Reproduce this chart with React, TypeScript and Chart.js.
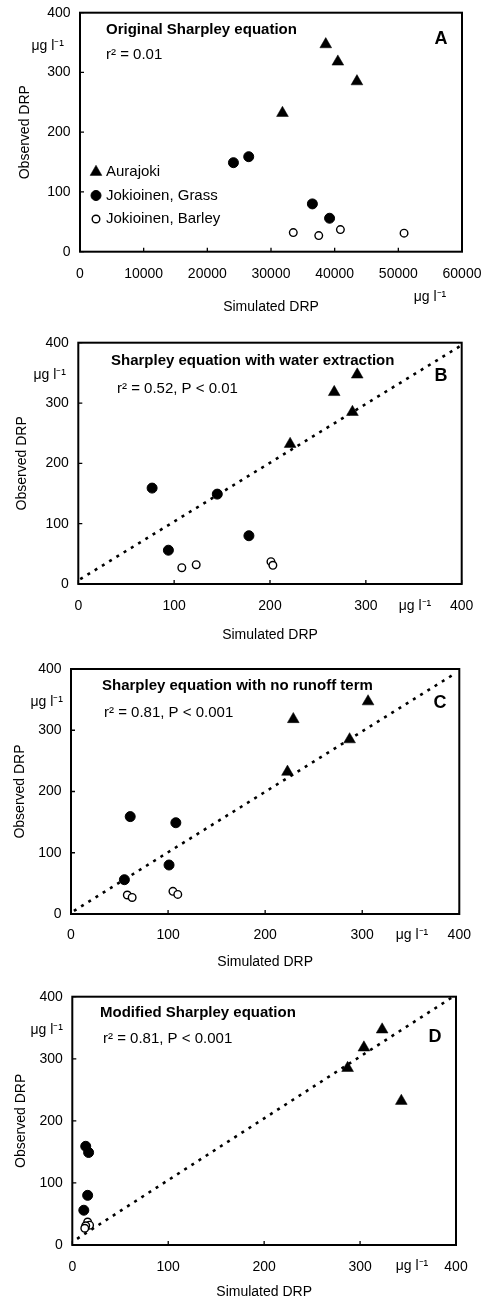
import React, { useEffect, useRef } from "react";
import { Chart, registerables } from "chart.js";

Chart.register(...registerables);

const FONT = 'Arial, "Liberation Sans", Helvetica, sans-serif';

// ---------- data ----------
const seriesNames = ["Aurajoki", "Jokioinen, Grass", "Jokioinen, Barley"];

// observed DRP (µg l-1), same observations in every panel
const obsAurajoki = [347, 318, 285, 232];
const obsGrass = [159, 149, 80, 56];
const obsBarley = [37, 32, 31, 27];

// simulated DRP, panel A (original Sharpley equation)
const simA_aurajoki = [38600, 40500, 43500, 31800];
const simA_grass = [26500, 24100, 36500, 39200];
const simA_barley = [40900, 33500, 50900, 37500];

// panel B (water extraction)
const simB_aurajoki = [291, 267, 286, 221];
const simB_grass = [77, 145, 178, 94];
const simB_barley = [201, 123, 203, 108];

// panel C (no runoff term)
const simC_aurajoki = [306, 229, 287, 223];
const simC_grass = [61, 108, 101, 55];
const simC_barley = [105, 110, 58, 63];

// panel D (modified equation)
const simD_aurajoki = [323, 304, 287, 343];
const simD_grass = [14, 17, 16, 12];
const simD_barley = [16, 18, 14, 13];

// dotted fit lines (x, y end points)
const lineB_x = [2, 398];
const lineB_y = [8, 394];
const lineC_x = [3, 395];
const lineC_y = [5, 392];
const lineD_x = [5, 395];
const lineD_y = [10, 398];

const titles = [
  "Original Sharpley equation",
  "Sharpley equation with water extraction",
  "Sharpley equation with no runoff term",
  "Modified Sharpley equation",
];
const stats = ["r² = 0.01", "r² = 0.52, P < 0.01", "r² = 0.81, P < 0.001", "r² = 0.81, P < 0.001"];
const letters = ["A", "B", "C", "D"];
const xMaxes = [60000, 400, 400, 400];
const xSteps = [10000, 100, 100, 100];
const yMax = 400;
const yStep = 100;
const unitText = "μg l⁻¹";
const xTitle = "Simulated DRP";
const yTitle = "Observed DRP";

// ---------- layout ----------
type Layout = {
  top: number;
  h: number;
  area: { left: number; right: number; top: number; bottom: number };
  xTickPad: number;
  xTitleY: number;
  yTitleX: number;
  titlePos: [number, number];
  statPos: [number, number];
  letterPos: [number, number];
  yUnitPos: [number, number];
  xUnitPos: [number, number];
  legend: boolean;
};

const layouts: Layout[] = [
  {
    top: 0, h: 318,
    area: { left: 80, right: 462, top: 12.7, bottom: 251.7 },
    xTickPad: 14.5, xTitleY: 307, yTitleX: 25,
    titlePos: [106, 30], statPos: [106, 55], letterPos: [441, 39],
    yUnitPos: [64, 46], xUnitPos: [430, 297], legend: true,
  },
  {
    top: 318, h: 327,
    area: { left: 78.3, right: 461.7, top: 342.7, bottom: 584 },
    xTickPad: 13.5, xTitleY: 635, yTitleX: 22,
    titlePos: [111, 361], statPos: [117, 389], letterPos: [441, 376],
    yUnitPos: [66, 375], xUnitPos: [415, 606], legend: false,
  },
  {
    top: 645, h: 327,
    area: { left: 71, right: 459.3, top: 669, bottom: 914 },
    xTickPad: 12.6, xTitleY: 962, yTitleX: 20,
    titlePos: [102, 686], statPos: [104, 713], letterPos: [440, 703],
    yUnitPos: [63, 702], xUnitPos: [412, 935], legend: false,
  },
  {
    top: 972, h: 326,
    area: { left: 72.3, right: 456, top: 996.7, bottom: 1245 },
    xTickPad: 13.5, xTitleY: 1292, yTitleX: 21,
    titlePos: [100, 1013], statPos: [103, 1039], letterPos: [435, 1037],
    yUnitPos: [63, 1030], xUnitPos: [412, 1266], legend: false,
  },
];

const sims = [
  [simA_aurajoki, simA_grass, simA_barley],
  [simB_aurajoki, simB_grass, simB_barley],
  [simC_aurajoki, simC_grass, simC_barley],
  [simD_aurajoki, simD_grass, simD_barley],
];
const lines: (null | [number[], number[]])[] = [null, [lineB_x, lineB_y], [lineC_x, lineC_y], [lineD_x, lineD_y]];
const observed = [obsAurajoki, obsGrass, obsBarley];

const markerStyles = [
  { pointStyle: "triangle", radius: 6.8, bg: "#000", border: "#000", bw: 0.5 },
  { pointStyle: "circle", radius: 5, bg: "#000", border: "#000", bw: 1 },
  { pointStyle: "circle", radius: 3.8, bg: "#fff", border: "#000", bw: 1.4 },
];

function drawMarker(ctx: CanvasRenderingContext2D, idx: number, x: number, y: number) {
  const m = markerStyles[idx];
  ctx.save();
  ctx.fillStyle = m.bg;
  ctx.strokeStyle = m.border;
  ctx.lineWidth = m.bw;
  ctx.beginPath();
  if (m.pointStyle === "triangle") {
    const r = m.radius;
    ctx.moveTo(x, y - r);
    ctx.lineTo(x + r * Math.sin(Math.PI / 3), y + r * 0.5);
    ctx.lineTo(x - r * Math.sin(Math.PI / 3), y + r * 0.5);
    ctx.closePath();
  } else {
    ctx.arc(x, y, m.radius, 0, Math.PI * 2);
  }
  ctx.fill();
  ctx.stroke();
  ctx.restore();
}

function Panel({ i }: { i: number }) {
  const ref = useRef<HTMLCanvasElement>(null);
  useEffect(() => {
    const L = layouts[i];
    const off = L.top;
    const datasets: any[] = observed.map((obs, s) => ({
      label: seriesNames[s],
      data: sims[i][s].map((x, k) => ({ x, y: obs[k] })),
      pointStyle: markerStyles[s].pointStyle,
      pointRadius: markerStyles[s].radius,
      pointBackgroundColor: markerStyles[s].bg,
      pointBorderColor: markerStyles[s].border,
      pointBorderWidth: markerStyles[s].bw,
      showLine: false,
      order: 1,
    }));
    const ln = lines[i];
    if (ln) {
      datasets.push({
        label: "fit",
        data: ln[0].map((x, k) => ({ x, y: ln[1][k] })),
        showLine: true,
        borderColor: "#000",
        borderWidth: 2.6,
        borderDash: [3, 5.5],
        pointRadius: 0,
        order: 2,
      });
    }

    const decor = {
      id: "decor" + i,
      afterDraw(chart: any) {
        const { ctx, chartArea: a, scales } = chart;
        const xs = scales.x;
        const ys = scales.y;
        ctx.save();
        // frame
        ctx.strokeStyle = "#000";
        ctx.lineWidth = 2;
        ctx.strokeRect(a.left, a.top, a.right - a.left, a.bottom - a.top);
        // inward tick marks
        ctx.lineWidth = 1.3;
        ctx.beginPath();
        for (let v = 0; v <= xMaxes[i]; v += xSteps[i]) {
          const px = xs.getPixelForValue(v);
          ctx.moveTo(px, a.bottom);
          ctx.lineTo(px, a.bottom - 4);
        }
        for (let v = 0; v <= yMax; v += yStep) {
          const py = ys.getPixelForValue(v);
          ctx.moveTo(a.left, py);
          ctx.lineTo(a.left + 4, py);
        }
        ctx.stroke();

        ctx.fillStyle = "#000";
        ctx.textBaseline = "middle";
        // title
        ctx.font = `bold 15px ${FONT}`;
        ctx.textAlign = "left";
        ctx.fillText(titles[i], L.titlePos[0], L.titlePos[1] - off);
        // statistics
        ctx.font = `15px ${FONT}`;
        ctx.fillText(stats[i], L.statPos[0], L.statPos[1] - off);
        // panel letter
        ctx.font = `bold 18px ${FONT}`;
        ctx.textAlign = "center";
        ctx.fillText(letters[i], L.letterPos[0], L.letterPos[1] - off);
        // units
        ctx.font = `14px ${FONT}`;
        ctx.textAlign = "right";
        ctx.fillText(unitText, L.yUnitPos[0], L.yUnitPos[1] - off);
        ctx.textAlign = "center";
        ctx.fillText(unitText, L.xUnitPos[0], L.xUnitPos[1] - off);
        // legend
        if (L.legend) {
          ctx.font = `15px ${FONT}`;
          ctx.textAlign = "left";
          const ly = [172, 195.5, 219];
          seriesNames.forEach((name, s) => {
            drawMarker(ctx, s, 96, ly[s] - off);
            ctx.fillStyle = "#000";
            ctx.fillText(name, 106, ly[s] - off);
          });
        }
        ctx.restore();
      },
    };

    const tickFont = { family: FONT, size: 14 };
    const chart = new Chart(ref.current as HTMLCanvasElement, {
      type: "scatter",
      data: { datasets },
      options: {
        responsive: false,
        animation: false,
        events: [],
        layout: {
          padding: { left: 0, top: L.area.top - off, right: 490 - L.area.right, bottom: 0 },
        },
        plugins: { legend: { display: false }, tooltip: { enabled: false } },
        scales: {
          x: {
            type: "linear",
            position: "bottom",
            min: 0,
            max: xMaxes[i],
            grid: { display: false, drawTicks: false },
            border: { display: false },
            ticks: {
              stepSize: xSteps[i],
              color: "#000",
              font: tickFont,
              padding: L.xTickPad,
              maxRotation: 0,
              autoSkip: false,
              callback: (v: any) => String(v),
            },
            title: {
              display: true,
              text: xTitle,
              color: "#000",
              font: tickFont,
              padding: { top: 0, bottom: off + L.h - L.xTitleY - 8.4 },
            },
            afterFit: (s: any) => {
              s.height = off + L.h - L.area.bottom;
              s.paddingLeft = 0;
              s.paddingRight = 0;
            },
          },
          y: {
            type: "linear",
            position: "left",
            min: 0,
            max: yMax,
            grid: { display: false, drawTicks: false },
            border: { display: false },
            ticks: {
              stepSize: yStep,
              color: "#000",
              font: tickFont,
              padding: 9.5,
              callback: (v: any) => String(v),
            },
            title: {
              display: true,
              text: yTitle,
              color: "#000",
              font: tickFont,
              padding: { top: L.yTitleX - 8.4, bottom: 0 },
            },
            afterFit: (s: any) => {
              s.width = L.area.left;
              s.paddingTop = 0;
              s.paddingBottom = 0;
            },
          },
        },
      },
      plugins: [decor],
    } as any);
    return () => chart.destroy();
  }, [i]);
  const L = layouts[i];
  return (
    <div style={{ position: "absolute", left: 0, top: L.top, width: 490, height: L.h }}>
      <canvas ref={ref} width={490} height={L.h} style={{ display: "block", width: 490, height: L.h }} />
    </div>
  );
}

export default function App() {
  return (
    <div style={{ position: "absolute", left: 0, top: 0, width: 490, height: 1298, background: "#fff", overflow: "hidden" }}>
      {layouts.map((_, i) => (
        <Panel key={i} i={i} />
      ))}
    </div>
  );
}
